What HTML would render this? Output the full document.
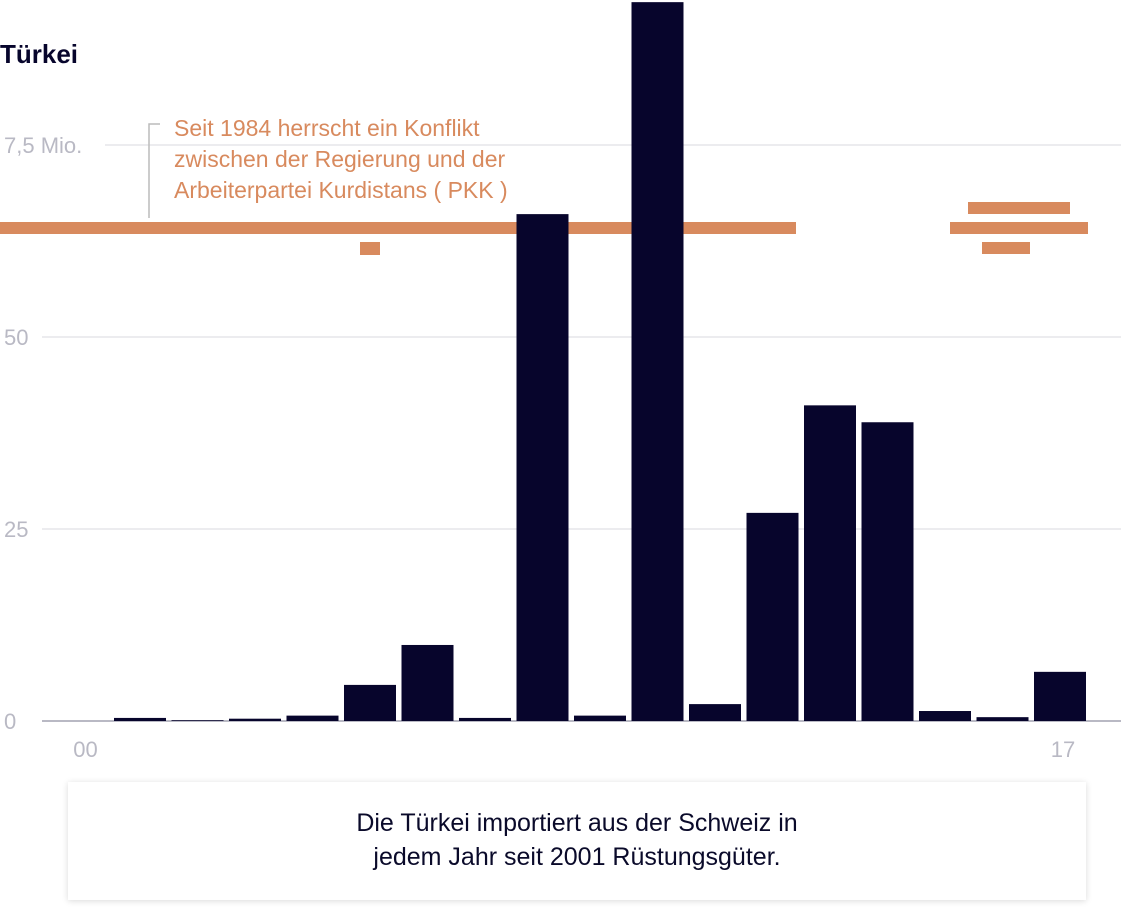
<!DOCTYPE html>
<html><head><meta charset="utf-8"><style>
body{margin:0;width:1121px;height:914px;background:#fff;overflow:hidden;font-family:"Liberation Sans",sans-serif}
svg{position:absolute;left:0;top:0}
.note{position:absolute;left:68px;top:782px;width:1018px;height:118px;background:#fff;box-shadow:0 1px 6px rgba(0,0,0,.15);text-align:center;font-size:25px;color:#0a0a2a;line-height:34px;padding-top:24px;box-sizing:border-box}
</style></head><body>
<svg width="1121" height="914">
<g id="grid"></g><g id="conflict"></g><g id="bars"></g><g id="labels"></g>
<text x="0" y="63" font-size="26" font-weight="bold" fill="#07052c">Türkei</text>
<path d="M149 218 V124 H160" stroke="#bbb" stroke-width="1.5" fill="none"/>
<text font-size="23" fill="#d88a5e"><tspan x="174" y="136">Seit 1984 herrscht ein Konflikt</tspan><tspan x="174" y="167">zwischen der Regierung und der</tspan><tspan x="174" y="198">Arbeiterpartei Kurdistans ( PKK )</tspan></text>
</svg>
<div class="note">Die Türkei importiert aus der Schweiz in<br>jedem Jahr seit 2001 Rüstungsgüter.</div>
<script>
const years=[2000,2001,2002,2003,2004,2005,2006,2007,2008,2009,2010,2011,2012,2013,2014,2015,2016,2017];
const values=[0,0.4,0.1,0.3,0.7,4.7,9.9,0.4,66,0.7,93.6,2.2,27.1,41.1,38.9,1.3,0.5,6.4];
const yTicks=[0,25,50,75];
const yTickLabels=["0","25","50","7,5 Mio."];
const xTickLabels=[["00",2000],["17",2017]];
const NS="http://www.w3.org/2000/svg";
const y=v=>721-v*7.68;
const xc=yr=>82.5+(yr-2000)*57.5;
function mk(t,a,p){const e=document.createElementNS(NS,t);for(const k in a)e.setAttribute(k,a[k]);document.getElementById(p).appendChild(e);return e;}
yTicks.forEach((t,i)=>{
 const g=mk('line',{x1:t===75?105:42,x2:1121,y1:y(t),y2:y(t),stroke:t===0?'#b9b9c4':'#e6e6ea','stroke-width':t===0?2:1.5},'grid');
 
 
 const l=mk('text',{x:4,y:y(t)+8,'font-size':22,fill:'#b9b9c4'},'labels');l.textContent=yTickLabels[i];
 
 
});
xTickLabels.forEach(([s,yr])=>{const l=mk('text',{x:xc(yr)+3,y:757,'font-size':22,fill:'#b9b9c4','text-anchor':'middle'},'labels');l.textContent=s;
 
 });
[[0,222,796,12],[360,242,20,13],[968,202,102,12],[950,222,138,12],[982,242,48,12]].forEach(r=>{
 const e=mk('rect',{x:r[0],y:r[1],width:r[2],height:r[3],fill:'#d88a5e'},'conflict');
 
 
});
years.forEach((yr,i)=>{
 const v=values[i];if(v<=0)return;
 const b=mk('rect',{x:xc(yr)-26,y:y(v),width:52,height:721-y(v),fill:'#07052c'},'bars');
 
 
});
</script>
</body></html>
